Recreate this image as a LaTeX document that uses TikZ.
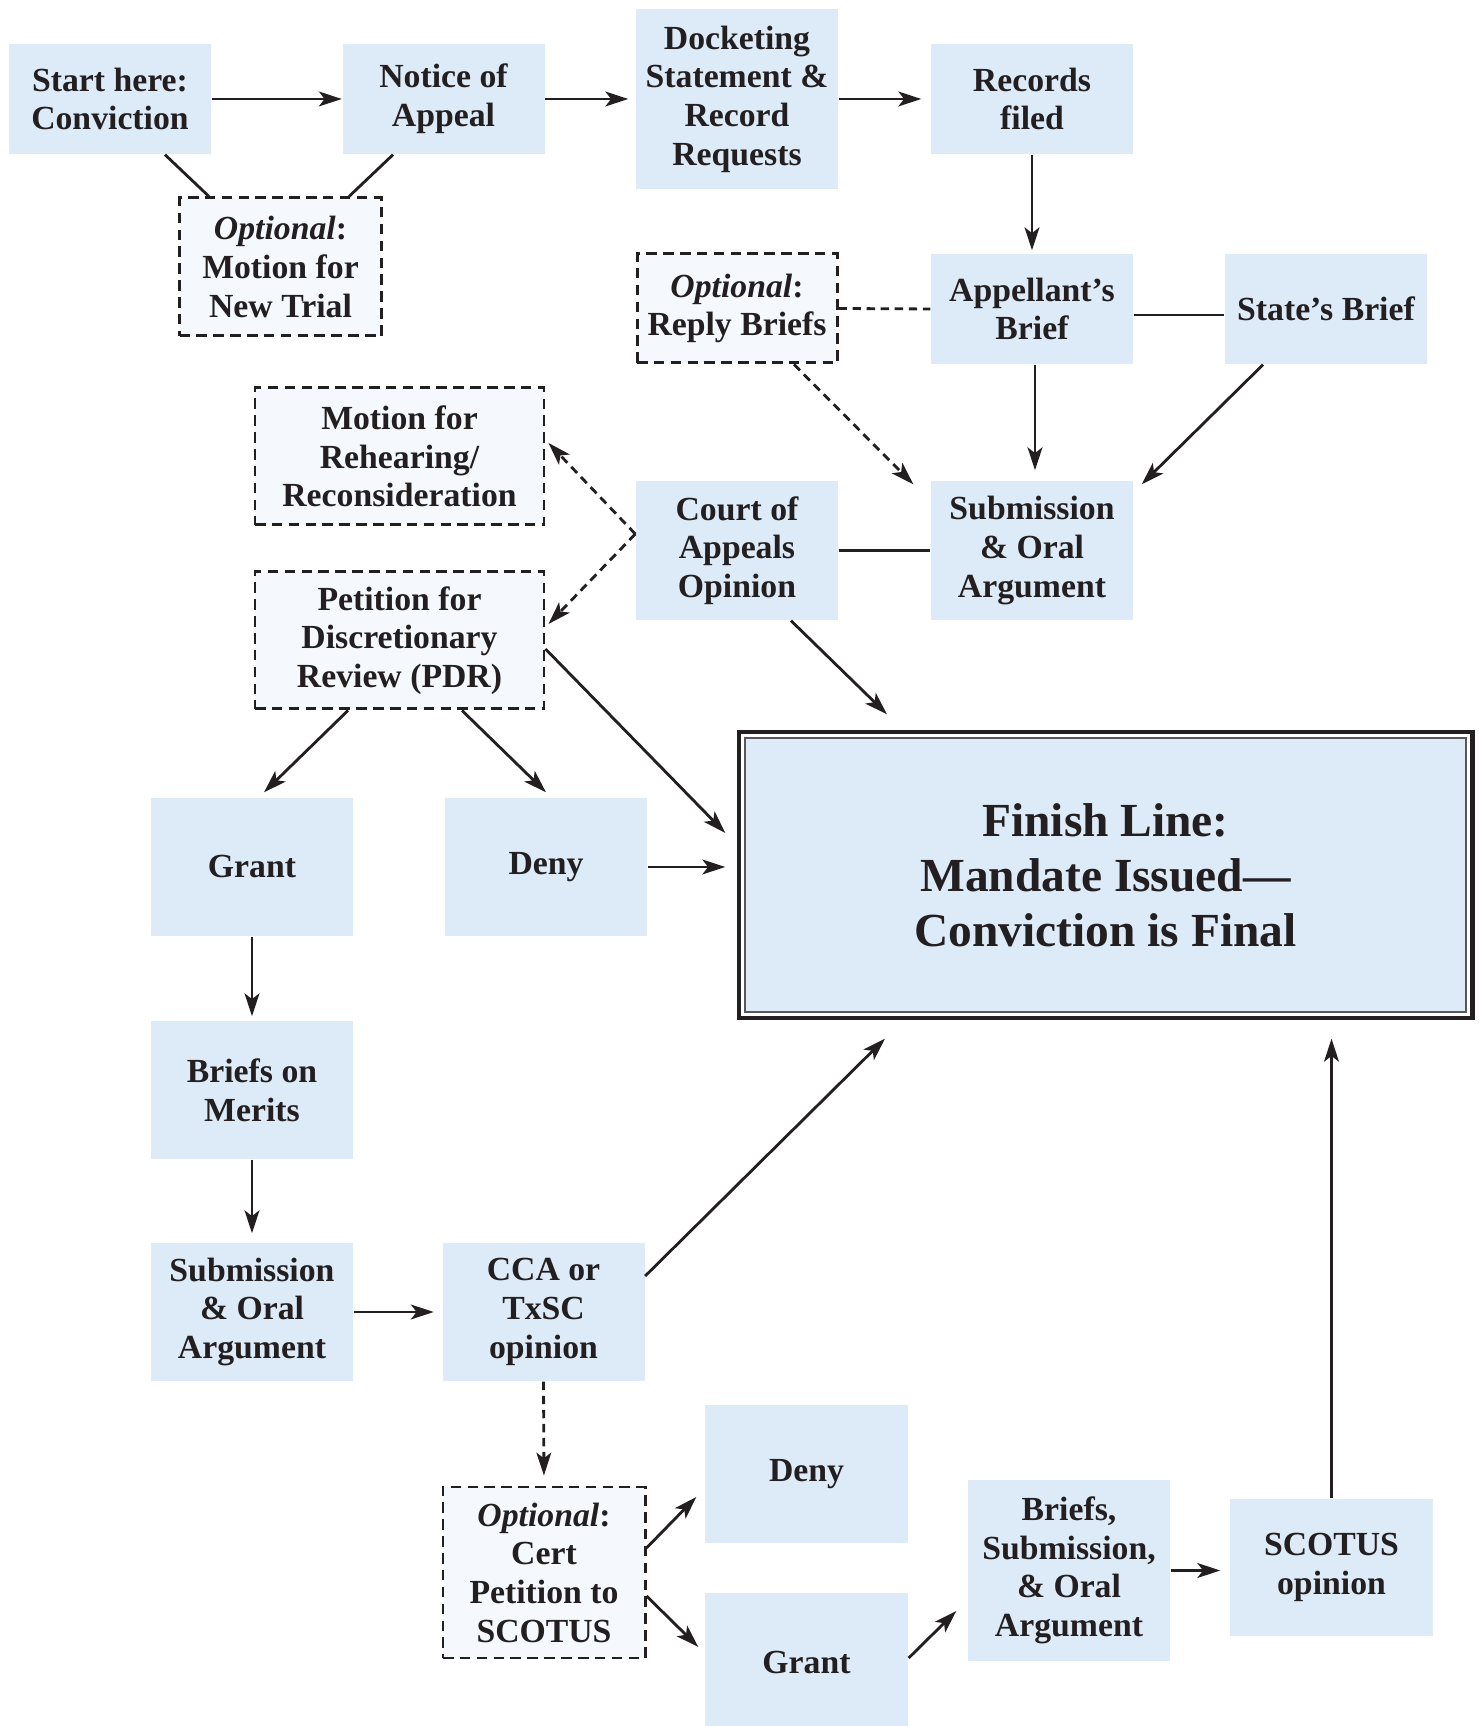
\documentclass[tikz,border=0pt]{standalone}
\usepackage{fontspec}
\setmainfont{Liberation Serif}
\usetikzlibrary{arrows.meta,calc}
\definecolor{Ink}{HTML}{231F20}
\definecolor{BoxFill}{HTML}{DDEBF8}
\definecolor{OptFill}{HTML}{F5F9FD}

\begin{document}
\begin{tikzpicture}[x=1cm,y=1cm,>={Stealth[length=6.5pt,width=4.2pt,inset=1.6pt]},
  stepbox/.style={fill=BoxFill,inner sep=0pt,minimum width=2.02cm,minimum height=1.38cm,align=center,text=Ink,font={\fontsize{9.6}{11}\selectfont\bfseries}},
  optbox/.style={stepbox,fill=OptFill,draw=Ink,line width=0.85pt,dash pattern=on 3pt off 1.8pt},
  link/.style={Ink,line width=0.8pt},
  optlink/.style={link,dash pattern=on 2.4pt off 1.6pt}]
\useasboundingbox (0,0) rectangle (14.79,17.26);
\node[stepbox,minimum height=1.10cm] (start) at (1.100,16.27) {Start here:\\Conviction};
\node[stepbox,minimum height=1.10cm] (notice) at (4.435,16.27) {Notice of\\Appeal};
\node[stepbox,minimum height=1.80cm] (docket) at (7.370,16.27) {Docketing\\Statement \&\\Record\\Requests};
\node[stepbox,minimum height=1.10cm] (records) at (10.320,16.27) {Records\\filed};
\node[optbox] (newtrial) at (2.805,14.59) {\textit{Optional}:\\Motion for\\New Trial};
\node[optbox,minimum width=2.00cm,minimum height=1.09cm] (reply) at (7.370,14.175) {\textit{Optional}:\\Reply Briefs};
\node[stepbox,minimum height=1.10cm] (appellant) at (10.320,14.17) {Appellant’s\\Brief};
\node[stepbox,minimum height=1.10cm] (state) at (13.260,14.17) {State’s Brief};
\node[optbox,minimum width=2.89cm,minimum height=1.37cm] (rehearing) at (3.995,12.695) {Motion for\\Rehearing/\\Reconsideration};
\node[stepbox,minimum height=1.39cm] (coa) at (7.370,11.755) {Court of\\Appeals\\Opinion};
\node[stepbox,minimum height=1.39cm] (subtop) at (10.320,11.755) {Submission\\\& Oral\\Argument};
\node[optbox,minimum width=2.89cm,minimum height=1.37cm] (pdr) at (3.995,10.855) {Petition for\\Discretionary\\Review (PDR)};
\node[stepbox,minimum width=7.21cm,minimum height=2.74cm,draw=Ink!75,line width=0.4pt,font={\fontsize{13.5}{15.6}\selectfont\bfseries}] (finish) at (11.055,8.51) {Finish Line:\\Mandate Issued—\\Conviction is Final};
\draw[Ink,line width=1.3pt] ($(finish.north west)+(-0.055,0.055)$) rectangle ($(finish.south east)+(0.055,-0.055)$);
\node[stepbox] (grant) at (2.520,8.59) {Grant};
\node[stepbox] (deny) at (5.460,8.59) {Deny};
\node[stepbox] (merits) at (2.520,6.36) {Briefs on\\Merits};
\node[stepbox] (subbot) at (2.520,4.14) {Submission\\\& Oral\\Argument};
\node[stepbox] (cca) at (5.435,4.14) {CCA or\\TxSC\\opinion};
\node[optbox,minimum height=1.71cm] (cert) at (5.440,1.535) {\textit{Optional}:\\Cert\\Petition to\\SCOTUS};
\node[stepbox,minimum width=2.03cm] (denyb) at (8.065,2.52) {Deny};
\node[stepbox,minimum width=2.03cm] (grantb) at (8.065,0.64) {Grant};
\node[stepbox,minimum height=1.81cm] (briefsub) at (10.690,1.555) {Briefs,\\Submission,\\\& Oral\\Argument};
\node[stepbox,minimum width=2.03cm,minimum height=1.37cm] (scotus) at (13.315,1.585) {SCOTUS\\opinion};
\draw[link,->] (start.east) -- (notice.west);
\draw[link,->,shorten >=0.07cm] (notice.east) -- (docket.west);
\draw[link,->,shorten >=0.09cm] (docket.east) -- (records.west);
\draw[link] ($(start.south)+(0.55,0)$) -- ($(newtrial.north)+(-0.715,0)$);
\draw[link] ($(notice.south)+(-0.505,0)$) -- ($(newtrial.north)+(0.685,0)$);
\draw[link,->,shorten >=0.03cm] (records.south) -- (appellant.north);
\draw[optlink] (reply.east) -- (appellant.west);
\draw[link] ($(appellant.east)+(0,-0.06)$) -- ($(state.west)+(0,-0.06)$);
\draw[link,->,shorten >=0.1cm] ($(appellant.south)+(0.03,0)$) -- ($(subtop.north)+(0.03,0)$);
\draw[link,->] ($(state.south)+(-0.63,0)$) -- ($(subtop.north east)+(0.08,-0.04)$);
\draw[optlink,->] ($(reply.south)+(0.57,0)$) -- ($(subtop.north west)+(-0.17,-0.04)$);
\draw[link] (coa.east) -- (subtop.west);
\coordinate (coafork) at ($(coa.west)+(0,0.165)$);
\draw[optlink,->] (coafork) -- ($(rehearing.east)+(0.03,0.135)$);
\draw[optlink,->] (coafork) -- ($(pdr.east)+(0.03,0.165)$);
\draw[link,->] ($(coa.south)+(0.54,0)$) -- ($(finish.north)+(-2.185,0.23)$);
\draw[link,->] ($(pdr.east)+(0,-0.085)$) -- ($(finish.west)+(-0.19,0.42)$);
\draw[link,->] ($(pdr.south)+(-0.515,0)$) -- ($(grant.north)+(0.12,0.05)$);
\draw[link,->] ($(pdr.south)+(0.625,0)$) -- ($(deny.north)+(0,0.05)$);
\draw[link,->,shorten >=0.19cm] (deny.east) -- (deny.east -| finish.west);
\draw[link,->,shorten >=0.04cm] (grant.south) -- (merits.north);
\draw[link,->,shorten >=0.09cm] (merits.south) -- (subbot.north);
\draw[link,->,shorten >=0.08cm] (subbot.east) -- (cca.west);
\draw[link,->] ($(cca.east)+(0,0.36)$) -- ($(finish.south)+(-2.205,-0.26)$);
\draw[optlink,->,shorten >=0.1cm] (cca.south) -- (cert.north);
\draw[link,->] ($(cert.east)+(0,0.245)$) -- ($(denyb.west)+(-0.08,-0.23)$);
\draw[link,->] ($(cert.east)+(0,-0.235)$) -- ($(grantb.west)+(-0.06,0.15)$);
\draw[link,->] ($(grantb.east)+(0,0.04)$) -- ($(briefsub.west)+(-0.11,-0.405)$);
\draw[link,->,shorten >=0.09cm] (briefsub.east) -- (briefsub.east -| scotus.west);
\draw[link,->,shorten >=0.26cm] (scotus.north) -- (scotus.north |- finish.south);
\end{tikzpicture}
\end{document}
